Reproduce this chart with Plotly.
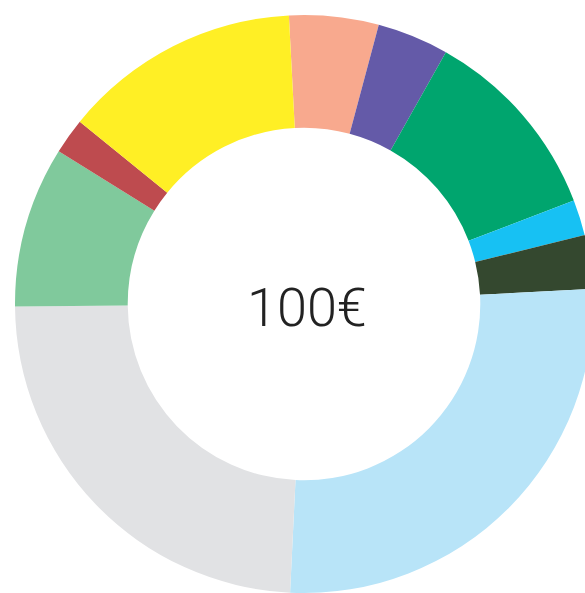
import plotly.graph_objects as go

labels = ["A", "B", "C", "D", "E", "F", "G", "H", "I", "J"]
values = [5, 4, 11, 2, 3, 26.6, 24.1, 9, 2, 13.3]
colors = ["#F8A98E", "#645AA8", "#00A56E", "#17C1F3", "#34482F",
          "#B8E4F8", "#E1E2E4", "#80C99C", "#BE4B4F", "#FFEF25"]
center_text = "100€"

W = 608
H = 608

fig = go.Figure(go.Pie(
    labels=labels,
    values=values,
    marker=dict(colors=colors, line=dict(width=0)),
    hole=0.61,
    sort=False,
    direction="clockwise",
    rotation=-3,
    textinfo="none",
    hoverinfo="label+value",
    domain=dict(x=[15 / W, 593 / W], y=[15 / H, 593 / H]),
))

fig.add_annotation(
    text=center_text, x=307 / W, y=1 - 307 / H, xref="paper", yref="paper",
    showarrow=False, xanchor="center", yanchor="middle",
    font=dict(family="Roboto", size=54, color="#222222", weight=300),
)

fig.update_layout(
    width=W, height=H,
    margin=dict(l=0, r=0, t=0, b=0),
    showlegend=False,
    paper_bgcolor="white",
    plot_bgcolor="white",
)

fig.write_html(
    "out.html",
    config={"displayModeBar": False},
    post_script="document.body.style.margin='0';document.body.style.overflow='hidden';document.documentElement.style.overflow='hidden';",
)
